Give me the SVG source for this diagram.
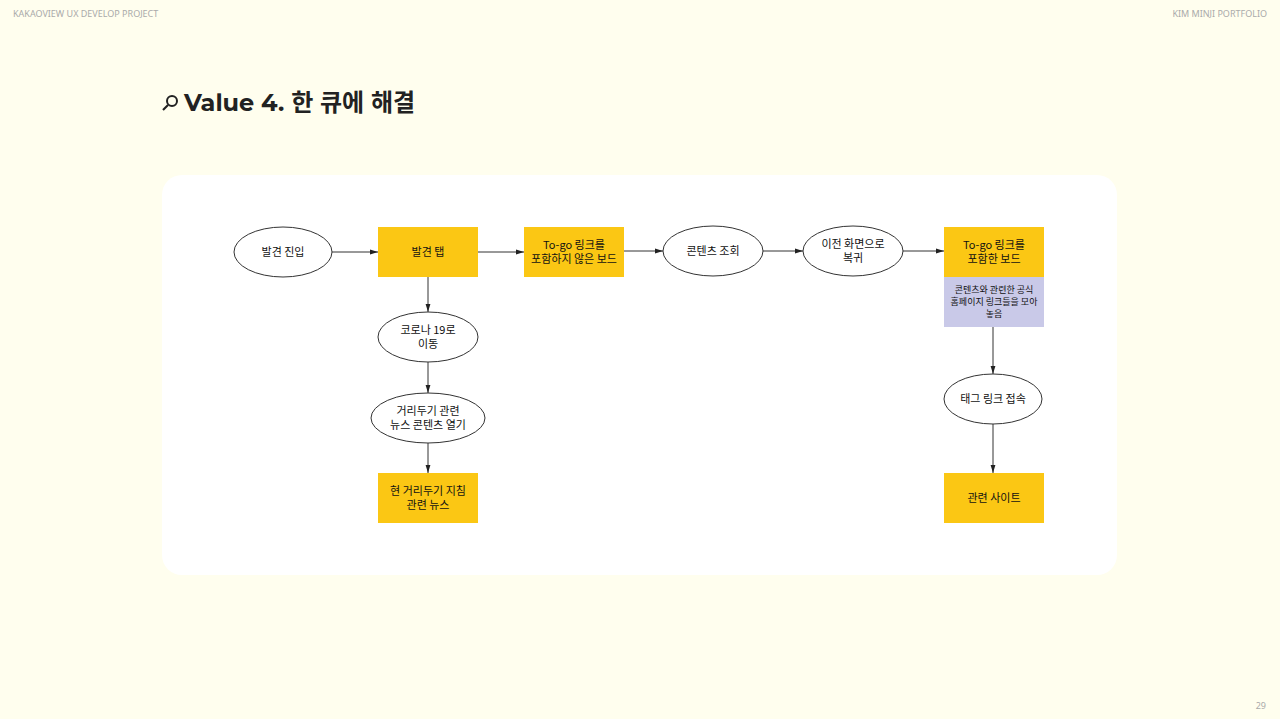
<svg xmlns="http://www.w3.org/2000/svg" width="1280" height="719" viewBox="0 0 1280 719">
<defs>
<marker id="ar" viewBox="0 0 10 10" refX="10" refY="5" markerWidth="8" markerHeight="8" orient="auto"><path d="M0,2 L10,5 L0,8 z" fill="#222"/></marker>
<style>
.t{font-family:"Noto Sans CJK KR","Noto Sans",sans-serif;font-size:11px;fill:#111;text-anchor:middle}
.s{font-size:9px}
.e{fill:#fff;stroke:#333;stroke-width:1}
.y{fill:#fbc714}
.c{stroke:#333;stroke-width:1;fill:none;marker-end:url(#ar)}
.h{font-family:"Noto Sans","Noto Sans CJK KR",sans-serif;font-size:9px;fill:#aaa}
</style>
</defs>
<rect width="1280" height="719" fill="#fffeee"/>
<text class="h" x="13" y="17">KAKAOVIEW UX DEVELOP PROJECT</text>
<text class="h" x="1267" y="17" text-anchor="end">KIM MINJI PORTFOLIO</text>
<text class="h" x="1266" y="709" text-anchor="end">29</text>
<g id="title">
<circle cx="172" cy="101" r="5" fill="none" stroke="#222" stroke-width="2"/>
<line x1="168" y1="105" x2="163" y2="110" stroke="#222" stroke-width="2.2"/>
<text x="184" y="111" font-family="Montserrat,'Noto Sans CJK KR',sans-serif" font-weight="bold" font-size="24" fill="#222">Value 4. 한 큐에 해결</text>
</g>
<rect x="162" y="175" width="955" height="400" rx="20" fill="#fff"/>
<g id="connectors">
<line class="c" x1="332" y1="252" x2="378" y2="252"/>
<line class="c" x1="478" y1="252" x2="524" y2="252"/>
<line class="c" x1="624" y1="251" x2="663" y2="251"/>
<line class="c" x1="763" y1="251" x2="803" y2="251"/>
<line class="c" x1="903" y1="251" x2="944" y2="251"/>
<line class="c" x1="428" y1="277" x2="428" y2="312"/>
<line class="c" x1="428" y1="362" x2="428" y2="393"/>
<line class="c" x1="428" y1="443" x2="428" y2="473"/>
<line class="c" x1="993" y1="327" x2="993" y2="374"/>
<line class="c" x1="993" y1="424" x2="993" y2="473"/>
</g>
<g id="n1"><ellipse class="e" cx="283" cy="252" rx="49" ry="25"/><text class="t" x="283" y="256">발견 진입</text></g>
<g id="n2"><rect class="y" x="378" y="227" width="100" height="50"/><text class="t" x="428" y="256">발견 탭</text></g>
<g id="n3"><rect class="y" x="524" y="227" width="100" height="50"/><text class="t" x="574" y="249">To-go 링크를</text><text class="t" x="574" y="263">포함하지 않은 보드</text></g>
<g id="n4"><ellipse class="e" cx="713" cy="251" rx="50" ry="25"/><text class="t" x="713" y="255">콘텐츠 조회</text></g>
<g id="n5"><ellipse class="e" cx="853" cy="251" rx="50" ry="25"/><text class="t" x="853" y="248">이전 화면으로</text><text class="t" x="853" y="262">복귀</text></g>
<g id="n6"><rect class="y" x="944" y="227" width="100" height="50"/><text class="t" x="994" y="249">To-go 링크를</text><text class="t" x="994" y="263">포함한 보드</text>
<rect x="944" y="277" width="100" height="50" fill="#c9c9e8"/><text class="t s" x="994" y="293">콘텐츠와 관련한 공식</text><text class="t s" x="994" y="305">홈페이지 링크들을 모아</text><text class="t s" x="994" y="317">놓음</text></g>
<g id="n7"><ellipse class="e" cx="428" cy="337" rx="50" ry="25"/><text class="t" x="428" y="334">코로나 19로</text><text class="t" x="428" y="348">이동</text></g>
<g id="n8"><ellipse class="e" cx="428" cy="418" rx="57" ry="25"/><text class="t" x="428" y="415">거리두기 관련</text><text class="t" x="428" y="429">뉴스 콘텐츠 열기</text></g>
<g id="n9"><rect class="y" x="378" y="473" width="100" height="50"/><text class="t" x="428" y="495">현 거리두기 지침</text><text class="t" x="428" y="509">관련 뉴스</text></g>
<g id="n10"><ellipse class="e" cx="993" cy="399" rx="49" ry="25"/><text class="t" x="993" y="403">태그 링크 접속</text></g>
<g id="n11"><rect class="y" x="944" y="473" width="100" height="50"/><text class="t" x="994" y="502">관련 사이트</text></g>
</svg>
